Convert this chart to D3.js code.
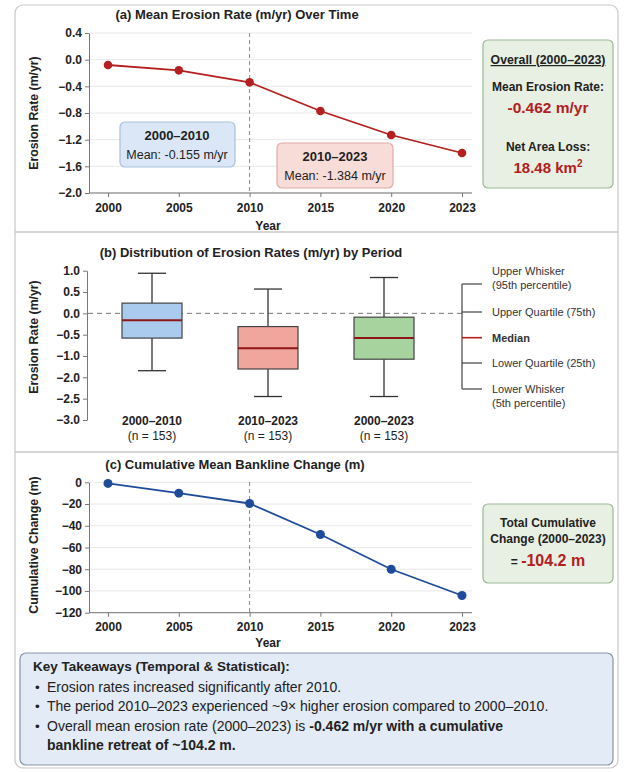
<!DOCTYPE html>
<html>
<head>
<meta charset="utf-8">
<script src="https://cdn.jsdelivr.net/npm/d3@7"></script>
<style>
  body { margin: 0; background: #fff; }
  svg { font-family: "Liberation Sans", Arial, sans-serif; }
  .tick text { font-weight: bold; fill: #222; font-size: 12px; }
  .tick line { stroke: #777; }
</style>
</head>
<body>
<div id="vis"></div>
<script>
// data
const YEARS = ["2000", "2005", "2010", "2015", "2020", "2023"];
const MEAN_RATE = [-0.08, -0.16, -0.34, -0.77, -1.13, -1.40];
const RATE_TICKS = [0.4, 0.0, -0.4, -0.8, -1.2, -1.6, -2.0];

const PERIODS = ["2000–2010", "2010–2023", "2000–2023"];
const N_OBS = [153, 153, 153];
const WHISK_HI = [0.94, 0.57, 0.84];
const Q3 = [0.24, -0.31, -0.09];
const MEDIAN = [-0.16, -0.82, -0.58];
const Q1 = [-0.58, -1.61, -1.15];
const WHISK_LO = [-1.69, -2.45, -2.45];
const BOX_TICKS = [1.0, 0.5, 0.0, -0.5, -1.0, -2.0, -2.5, -3.0];
const BOX_FILL = ["#aacbed", "#f0a59d", "#a6d39e"];
const LEGEND_LABELS = [["Upper Whisker", "(95th percentile)"], ["Upper Quartile (75th)"], ["Median"], ["Lower Quartile (25th)"], ["Lower Whisker", "(5th percentile)"]];

const CUM_CHANGE = [-1, -10, -19.5, -48, -80, -104.2];
const CUM_TICKS = [0, -20, -40, -60, -80, -100, -120];

const TAKEAWAYS = [
  [["Erosion rates increased significantly after 2010.", false]],
  [["The period 2010–2023 experienced ~9× higher erosion compared to 2000–2010.", false]],
  [["Overall mean erosion rate (2000–2023) is ", false], ["-0.462 m/yr with a cumulative", true]],
  [["bankline retreat of ~104.2 m.", true]]
];

const W = 625, H = 772;
const RED = "#b3201f", DARK = "#222";

const svg = d3.select("#vis").append("svg")
  .attr("width", W).attr("height", H);

// outer card + separators
svg.append("rect").attr("x", 15).attr("y", 5).attr("width", 603).attr("height", 763)
  .attr("rx", 8).attr("fill", "#fff").attr("stroke", "#c9c9c9").attr("stroke-width", 1.2);
[232, 452].forEach(y => {
  svg.append("line").attr("x1", 15).attr("x2", 618).attr("y1", y).attr("y2", y)
    .attr("stroke", "#c9c9c9").attr("stroke-width", 1.5);
});

const X = d3.scalePoint().domain(YEARS).range([108, 462]);

function title(txt, x, y) {
  svg.append("text").attr("x", x).attr("y", y).attr("text-anchor", "middle")
    .attr("font-size", 13).attr("font-weight", "bold").attr("fill", DARK).text(txt);
}
function yLabel(txt, cy) {
  svg.append("text").attr("transform", "translate(38," + cy + ") rotate(-90)")
    .attr("text-anchor", "middle").attr("font-size", 12.3).attr("font-weight", "bold")
    .attr("fill", DARK).text(txt);
}
function grid(yScale, ticks) {
  svg.append("g").selectAll("line").data(ticks).enter().append("line")
    .attr("x1", 90).attr("x2", 472)
    .attr("y1", d => yScale(d)).attr("y2", d => yScale(d))
    .attr("stroke", "#e8e8e8").attr("stroke-width", 1);
}
function axes(yScale, ticks, fmt, yBottom) {
  const gy = svg.append("g").attr("transform", "translate(89,0)")
    .call(d3.axisLeft(yScale).tickValues(ticks).tickFormat(fmt).tickSize(4).tickSizeOuter(0));
  gy.select(".domain").attr("stroke", "#777");
  const gx = svg.append("g").attr("transform", "translate(0," + yBottom + ")")
    .call(d3.axisBottom(X).tickSize(4).tickPadding(6));
  gx.select(".domain").remove();
  svg.append("line").attr("x1", 89).attr("x2", 472).attr("y1", yBottom).attr("y2", yBottom)
    .attr("stroke", "#777");
}
function noteBox(x, y, w, h, fill, stroke) {
  svg.append("rect").attr("x", x).attr("y", y).attr("width", w).attr("height", h)
    .attr("rx", 5).attr("fill", fill).attr("stroke", stroke).attr("stroke-width", 1.2);
}
function txt(s, x, y, size, weight, color, anchor) {
  return svg.append("text").attr("x", x).attr("y", y).attr("text-anchor", anchor || "middle")
    .attr("font-size", size).attr("font-weight", weight).attr("fill", color).text(s);
}

// ---------- (a) mean erosion rate ----------
const YA = d3.scaleLinear().domain([-2.0, 0.4]).range([193, 33]);
title("(a) Mean Erosion Rate (m/yr) Over Time", 237, 19);
grid(YA, RATE_TICKS);
axes(YA, RATE_TICKS, d3.format(".1f"), 193);
yLabel("Erosion Rate (m/yr)", 113);
txt("Year", 268, 230, 12, "bold", DARK);

svg.append("line").attr("x1", X("2010")).attr("x2", X("2010"))
  .attr("y1", 33).attr("y2", 193)
  .attr("stroke", "#888").attr("stroke-dasharray", "4,3");

noteBox(120, 122, 115, 45, "#dbe7f6", "#a8c1dd");
txt("2000–2010", 177, 140, 13, "bold", DARK);
txt("Mean: -0.155 m/yr", 177, 159, 12.5, "normal", DARK);
noteBox(277, 143, 116, 45, "#f8dcd8", "#e2aaa4");
txt("2010–2023", 335, 161, 13, "bold", DARK);
txt("Mean: -1.384 m/yr", 335, 180, 12.5, "normal", DARK);

const lineA = d3.line().x((d, i) => X(YEARS[i])).y(d => YA(d));
svg.append("path").datum(MEAN_RATE).attr("d", lineA)
  .attr("fill", "none").attr("stroke", RED).attr("stroke-width", 1.8);
svg.selectAll(".ptA").data(MEAN_RATE).enter().append("circle")
  .attr("cx", (d, i) => X(YEARS[i])).attr("cy", d => YA(d)).attr("r", 4.3)
  .attr("fill", RED);

noteBox(483, 40, 130, 148, "#e7f0e3", "#9cb896");
txt("Overall (2000–2023)", 548, 64, 12.3, "bold", DARK).attr("text-decoration", "underline");
txt("Mean Erosion Rate:", 548, 91, 12, "bold", DARK);
txt("-0.462 m/yr", 548, 113, 15.5, "bold", RED);
txt("Net Area Loss:", 548, 151, 12, "bold", DARK);
const km = txt("18.48 km", 548, 173, 15, "bold", RED);
km.append("tspan").attr("dy", -6).attr("font-size", 10).text("2");

// ---------- (b) distribution box plots ----------
const YB = d3.scaleLinear().domain([1.0, -1.0, -2.0, -3.0]).range([270.7, 356, 377.3, 420]);
const XB = d3.scalePoint().domain(PERIODS).range([152, 384]);
title("(b) Distribution of Erosion Rates (m/yr) by Period", 251, 257);
const gyb = svg.append("g").attr("transform", "translate(87,0)")
  .call(d3.axisLeft(YB).tickValues(BOX_TICKS).tickFormat(d3.format(".1f")).tickSize(4).tickSizeOuter(0));
gyb.select(".domain").attr("stroke", "#777");
yLabel("Erosion Rate (m/yr)", 337);

svg.append("line").attr("x1", 88).attr("x2", 462).attr("y1", YB(0)).attr("y2", YB(0))
  .attr("stroke", "#777").attr("stroke-dasharray", "5,4");

const boxW = 60, capW = 28;
PERIODS.forEach((p, i) => {
  const cx = XB(p);
  const g = svg.append("g");
  g.append("line").attr("x1", cx).attr("x2", cx).attr("y1", YB(WHISK_HI[i])).attr("y2", YB(Q3[i]))
    .attr("stroke", "#333").attr("stroke-width", 1.3);
  g.append("line").attr("x1", cx).attr("x2", cx).attr("y1", YB(Q1[i])).attr("y2", YB(WHISK_LO[i]))
    .attr("stroke", "#333").attr("stroke-width", 1.3);
  [WHISK_HI[i], WHISK_LO[i]].forEach(v => {
    g.append("line").attr("x1", cx - capW / 2).attr("x2", cx + capW / 2)
      .attr("y1", YB(v)).attr("y2", YB(v)).attr("stroke", "#333").attr("stroke-width", 1.3);
  });
  g.append("rect").attr("x", cx - boxW / 2).attr("width", boxW)
    .attr("y", YB(Q3[i])).attr("height", YB(Q1[i]) - YB(Q3[i]))
    .attr("fill", BOX_FILL[i]).attr("stroke", "#444").attr("stroke-width", 1.2);
  g.append("line").attr("x1", cx - boxW / 2).attr("x2", cx + boxW / 2)
    .attr("y1", YB(MEDIAN[i])).attr("y2", YB(MEDIAN[i]))
    .attr("stroke", "#8e1616").attr("stroke-width", 2);
  txt(p, cx, 425, 12, "bold", DARK);
  txt("(n = " + N_OBS[i] + ")", cx, 440, 12, "normal", DARK);
});

// legend bracket
const legY = [284, 312, 337.7, 363, 389];
svg.append("line").attr("x1", 462).attr("x2", 462).attr("y1", legY[0]).attr("y2", legY[4])
  .attr("stroke", "#444").attr("stroke-width", 1.2);
legY.forEach((y, i) => {
  svg.append("line").attr("x1", 462).attr("x2", 482).attr("y1", y).attr("y2", y)
    .attr("stroke", i === 2 ? "#b3201f" : "#444").attr("stroke-width", i === 2 ? 1.6 : 1.2);
  const lines = LEGEND_LABELS[i];
  let y0 = y + 4;
  if (i === 0) y0 = y - 9;
  lines.forEach((s, k) => {
    txt(s, 492, y0 + k * 14, 11, i === 2 ? "bold" : "normal", "#333", "start");
  });
});

// ---------- (c) cumulative change ----------
const YC = d3.scaleLinear().domain([-120, 0]).range([612.7, 482.3]);
title("(c) Cumulative Mean Bankline Change (m)", 235, 469);
grid(YC, CUM_TICKS);
axes(YC, CUM_TICKS, d3.format("d"), 612.7);
yLabel("Cumulative Change (m)", 545);
txt("Year", 268, 647, 12, "bold", DARK);

svg.append("line").attr("x1", X("2010")).attr("x2", X("2010"))
  .attr("y1", 482).attr("y2", 612.7)
  .attr("stroke", "#888").attr("stroke-dasharray", "4,3");

const BLUE = "#1f4c9a";
const lineC = d3.line().x((d, i) => X(YEARS[i])).y(d => YC(d));
svg.append("path").datum(CUM_CHANGE).attr("d", lineC)
  .attr("fill", "none").attr("stroke", BLUE).attr("stroke-width", 1.8);
svg.selectAll(".ptC").data(CUM_CHANGE).enter().append("circle")
  .attr("cx", (d, i) => X(YEARS[i])).attr("cy", d => YC(d)).attr("r", 4.5)
  .attr("fill", BLUE);

noteBox(483, 504, 130, 79, "#e7f0e3", "#9cb896");
txt("Total Cumulative", 548, 527, 12, "bold", DARK);
txt("Change (2000–2023)", 548, 543, 12, "bold", DARK);
const tot = txt("= ", 548, 566, 12, "bold", DARK);
tot.append("tspan").attr("font-size", 16).attr("fill", RED).text("-104.2 m");

// ---------- key takeaways ----------
svg.append("rect").attr("x", 20).attr("y", 653).attr("width", 593).attr("height", 112)
  .attr("rx", 6).attr("fill", "#e2ebf6").attr("stroke", "#8795a8").attr("stroke-width", 1.2);
txt("Key Takeaways (Temporal & Statistical):", 33, 671, 13.5, "bold", DARK, "start");
TAKEAWAYS.forEach((parts, i) => {
  const y = 692 + i * 19.3;
  if (i < 3) txt("•", 35, y, 13.5, "normal", DARK, "start");
  const t = txt("", 47, y, 14, "normal", DARK, "start");
  parts.forEach(p => {
    t.append("tspan").attr("font-weight", p[1] ? "bold" : "normal").text(p[0]);
  });
});
</script>
</body>
</html>
